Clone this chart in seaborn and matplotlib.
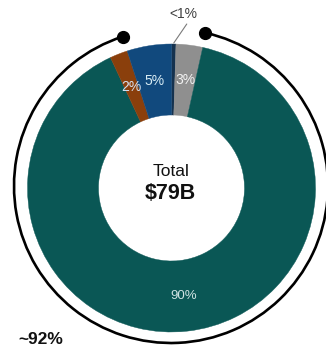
import numpy as np
import matplotlib
matplotlib.use("Agg")
import matplotlib.pyplot as plt
from matplotlib.patches import Arc
import seaborn as sns

# ---- data (clockwise from 12 o'clock) ----
categories = ["Other (<1%)", "Grey segment", "Main segment", "Brown segment", "Blue segment"]
values = [0.5, 3, 90, 2, 5]
value_labels = ["<1%", "3%", "90%", "2%", "5%"]
colors = ["#15324f", "#8f8f8f", "#0a5755", "#8a3f0c", "#11497d"]
label_colors = [None, "#f2f2f2", "#cfe3e3", "#d6e2f2", "#d8ecf4"]
label_sizes = [10, 10, 9.5, 10, 10]
center_title = "Total"
center_value = "$79B"
bracket_label = "~92%"
bracket_members = ["Main segment", "Brown segment"]

sns.set_theme(style="white")
plt.rcParams["font.family"] = ["Liberation Sans", "DejaVu Sans"]

W, H = 326, 350
fig = plt.figure(figsize=(W / 100, H / 100), dpi=100)
ax = fig.add_axes([0, 0, 1, 1])

cx, cy = 171.5, H - 188
R, ring = 144, 71
pal = sns.color_palette(colors)

wedges, _ = ax.pie(values, colors=pal, startangle=90, counterclock=False,
                   center=(cx, cy), radius=R, frame=True,
                   wedgeprops=dict(width=ring, linewidth=0.3))
for w in wedges:
    w.set_edgecolor(w.get_facecolor())
ax.set_xlim(0, W)
ax.set_ylim(0, H)
ax.set_axis_off()

# slice labels
rl = R - ring / 2
for w, lab, col, fs in zip(wedges, value_labels, label_colors, label_sizes):
    mid = np.deg2rad((w.theta1 + w.theta2) / 2)
    if col is None:
        # outside label with leader line
        x0, y0 = cx + (R + 1) * np.cos(mid), cy + (R + 1) * np.sin(mid)
        x1, y1 = x0 + 13, y0 + 19
        ax.plot([x0, x1], [y0, y1], color="#7a7a7a", lw=0.8)
        ax.text(x1 - 3, y1 + 3, lab, ha="center", va="bottom", fontsize=10, color="#404040")
    else:
        ax.text(cx + rl * np.cos(mid), cy + rl * np.sin(mid), lab,
                ha="center", va="center", fontsize=fs, color=col)

# center text
ax.text(cx, H - 175.5, center_title, ha="center", va="baseline", fontsize=12.5, color="#111111")
ax.text(cx - 1, H - 199, center_value, ha="center", va="baseline", fontsize=15.5,
        fontweight="bold", color="#111111")

# bracket arc around the selected slices
sel = [w for w, c in zip(wedges, categories) if c in bracket_members]
t_start = min(w.theta1 for w in sel)
t_end = max(w.theta2 for w in sel)
acx, acy, ra = 171, H - 186, 157
arc = Arc((acx, acy), 2 * ra, 2 * ra, theta1=t_start, theta2=t_end,
          color="black", lw=1.9)
ax.add_patch(arc)
for t in (t_start, t_end):
    tr = np.deg2rad(t)
    ax.plot(acx + ra * np.cos(tr), acy + ra * np.sin(tr), "o", color="black",
            markersize=8.5)

ax.text(41, H - 339, bracket_label, ha="center", va="center", fontsize=12.5,
        fontweight="bold", color="#111111")

fig.savefig("out.png", dpi=100, facecolor="white")
